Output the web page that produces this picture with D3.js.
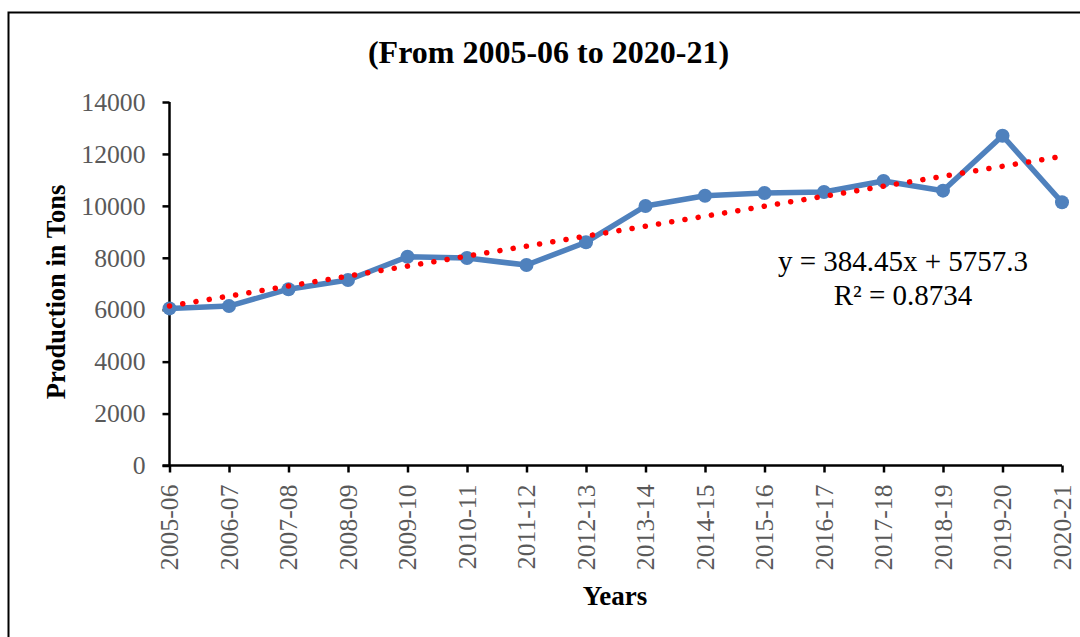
<!DOCTYPE html>
<html>
<head>
<meta charset="utf-8">
<script src="https://cdn.jsdelivr.net/npm/d3@7"></script>
<style>
  body { margin: 0; background: #fff; }
  text { font-family: "Liberation Serif", "Times New Roman", serif; }
</style>
</head>
<body>
<div class="main-graph"></div>
<script>
// data
var years = ["2005-06","2006-07","2007-08","2008-09","2009-10","2010-11","2011-12","2012-13",
             "2013-14","2014-15","2015-16","2016-17","2017-18","2018-19","2019-20","2020-21"];
var production = [6050, 6140, 6790, 7145, 8040, 7990, 7720, 8600,
                  9995, 10390, 10495, 10535, 10955, 10585, 12700, 10140];
var yTicks = [0, 2000, 4000, 6000, 8000, 10000, 12000, 14000];
// linear trendline as printed on the chart
var trendSlope = 384.45, trendIntercept = 5757.3, trendR2 = 0.8734;

var W = 1080, H = 637;
var margin = {top: 102, right: 18, bottom: 171.5, left: 169.5},
    width = W - margin.left - margin.right,
    height = H - margin.top - margin.bottom;

var svg = d3.select(".main-graph")
            .append("svg")
            .attr("width", W)
            .attr("height", H);

// outer frame (runs off the right and bottom edge)
svg.append("rect")
   .attr("x", 8.5).attr("y", 12.5)
   .attr("width", 1100).attr("height", 700)
   .attr("fill", "none").attr("stroke", "#000").attr("stroke-width", 2);

var g = svg.append("g")
           .attr("transform", "translate(" + margin.left + "," + margin.top + ")");

var x = d3.scalePoint()
          .domain(years)
          .range([0, 892.5]);

var y = d3.scaleLinear()
          .domain([0, 14000])
          .range([height, 0]);

// Y axis
var yAxis = g.append("g")
   .call(d3.axisLeft(y).tickValues(yTicks).tickSize(7).tickPadding(17).tickFormat(d3.format("d")));
yAxis.select(".domain").attr("stroke-width", 2.5).attr("d", "M0," + (height) + "V0");
yAxis.selectAll(".tick line").attr("stroke-width", 2.5);
yAxis.selectAll(".tick text")
     .attr("fill", "#595959")
     .style("font-size", "25.7px")
     .style("font-family", "Liberation Serif");

// X axis
var xAxis = g.append("g")
   .attr("transform", "translate(0," + height + ")")
   .call(d3.axisBottom(x).tickSize(7).tickSizeOuter(0));
xAxis.select(".domain").attr("stroke-width", 2.5).attr("d", "M-7,0H" + x(years[years.length - 1]));
xAxis.selectAll(".tick line").attr("stroke-width", 2.5);
xAxis.selectAll(".tick text")
     .attr("fill", "#595959")
     .style("font-size", "25.7px")
     .style("font-family", "Liberation Serif")
     .attr("text-anchor", "end")
     .attr("transform", "rotate(-90)")
     .attr("x", -19)
     .attr("y", 0)
     .attr("dy", "0.33em");

// data line
var line = d3.line()
             .x(function(d, i) { return x(years[i]); })
             .y(function(d) { return y(d); });

g.append("path")
 .attr("d", line(production))
 .attr("fill", "none")
 .attr("stroke", "#4F81BD")
 .attr("stroke-width", 5.5)
 .attr("stroke-linejoin", "round");

g.selectAll(".pt")
 .data(production)
 .enter().append("circle")
 .attr("cx", function(d, i) { return x(years[i]); })
 .attr("cy", function(d) { return y(d); })
 .attr("r", 7)
 .attr("fill", "#4F81BD");

// trendline
var trendData = [1, years.length].map(function(n) {
  return {cat: years[n - 1], v: trendSlope * n + trendIntercept};
});
g.append("path")
 .attr("d", d3.line().x(function(d) { return x(d.cat); }).y(function(d) { return y(d.v); })(trendData))
 .attr("fill", "none")
 .attr("stroke", "#FF0000")
 .attr("stroke-width", 5.5)
 .attr("stroke-linecap", "round")
 .attr("stroke-dasharray", "0.1 13.3");

// equation label
var eq = svg.append("text")
   .attr("text-anchor", "middle")
   .style("font-size", "29px")
   .attr("fill", "#000");
eq.append("tspan").attr("x", 903).attr("y", 271)
  .text("y = " + trendSlope + "x + " + trendIntercept);
eq.append("tspan").attr("x", 903).attr("y", 305)
  .text("R\u00B2 = " + trendR2);

// title
svg.append("text")
   .attr("x", 548.5).attr("y", 63)
   .attr("text-anchor", "middle")
   .style("font-size", "32px")
   .style("font-weight", "bold")
   .text("(From 2005-06 to 2020-21)");

// axis titles
svg.append("text")
   .attr("text-anchor", "middle")
   .style("font-size", "26.5px")
   .style("font-weight", "bold")
   .attr("transform", "translate(65,292)rotate(-90)")
   .text("Production in Tons");

svg.append("text")
   .attr("x", 615).attr("y", 605)
   .attr("text-anchor", "middle")
   .style("font-size", "27px")
   .style("font-weight", "bold")
   .text("Years");
</script>
</body>
</html>
